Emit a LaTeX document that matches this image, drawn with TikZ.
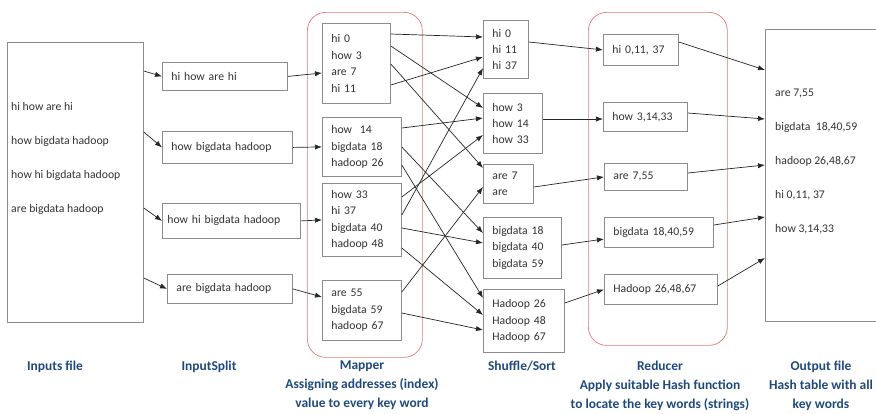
\documentclass[tikz,border=0pt]{standalone}
\usepackage{fontspec}
\setmainfont{Carlito}
\usetikzlibrary{arrows.meta}
\definecolor{boxgray}{RGB}{140,140,140}
\definecolor{textgray}{RGB}{50,50,50}
\definecolor{capblue}{RGB}{31,73,125}
\definecolor{groupred}{RGB}{232,120,120}

\begin{document}
\begin{tikzpicture}[x=0.03cm, y=-0.03cm]
\tikzstyle{box}=[rectangle, draw=boxgray, line width=0.7pt, anchor=north west, align=left, inner xsep=0.27cm, inner ysep=0pt, text=textgray, font=\fontsize{10}{14}\selectfont]
\tikzstyle{frame}=[rectangle, draw=boxgray, line width=0.7pt, anchor=north west, inner sep=0pt]
\tikzstyle{group}=[rectangle, rounded corners=0.55cm, draw=groupred, line width=0.6pt, anchor=north west, inner sep=0pt]
\tikzstyle{lines}=[anchor=north west, align=left, inner sep=0pt, text=textgray, font=\fontsize{10}{29}\selectfont]
\tikzstyle{caption}=[anchor=north, align=center, inner sep=0pt, text=capblue, font=\bfseries\fontsize{11.5}{16}\selectfont]
\tikzstyle{connect}=[-{Latex[length=6pt, width=4.5pt]}, line width=0.6pt, black!85]

\useasboundingbox (0,0) rectangle (876,413);

  % red frames round the map and reduce steps
  \node[group, minimum width=3.45cm, minimum height=10.35cm] (mapgroup) at (307,12) {};
  \node[group, minimum width=4.17cm, minimum height=9.99cm]  (redgroup) at (588,12) {};

  % input file
  \node[frame, minimum width=4.08cm, minimum height=8.4cm] (inputs) at (7,42) {};
  \node[lines] (inputtext) at (11,102) {hi how are hi\\how bigdata hadoop\\how hi bigdata hadoop\\are bigdata hadoop};

  % splits
  \node[box, minimum width=3.75cm, minimum height=0.84cm, text width=3.21cm] (split1) at (162,62)  {hi~how~are~hi};
  \node[box, minimum width=3.9cm,  minimum height=0.96cm, text width=3.36cm] (split2) at (162,131) {how~bigdata~hadoop};
  \node[box, minimum width=4.14cm, minimum height=1.05cm, text width=3.84cm, inner xsep=0.15cm] (split3) at (162,203) {how~hi~bigdata~hadoop};
  \node[box, minimum width=3.75cm, minimum height=0.87cm, text width=3.21cm] (split4) at (167,274) {are~bigdata~hadoop};

  % mapper output
  \node[box, minimum width=2.04cm, minimum height=2.4cm,  text width=1.5cm]  (map1) at (322,23)  {hi~0\\how~3\\are~7\\hi~11};
  \node[box, minimum width=2.37cm, minimum height=1.77cm, text width=1.83cm] (map2) at (322,117) {how~~14\\bigdata~18\\hadoop~26};
  \node[box, minimum width=2.37cm, minimum height=2.19cm, text width=1.83cm] (map3) at (322,183) {how~33\\hi~37\\bigdata~40\\hadoop~48};
  \node[box, minimum width=2.37cm, minimum height=1.8cm,  text width=1.83cm] (map4) at (322,280) {are~55\\bigdata~59\\hadoop~67};

  % shuffled groups
  \node[box, minimum width=1.35cm, minimum height=1.74cm, text width=0.81cm] (shuf1) at (483,20)  {hi~0\\hi~11\\hi~37};
  \node[box, minimum width=1.77cm, minimum height=1.8cm,  text width=1.23cm] (shuf2) at (483,93)  {how~3\\how~14\\how~33};
  \node[box, minimum width=1.5cm,  minimum height=1.17cm, text width=0.96cm] (shuf3) at (483,164) {are~7\\are};
  \node[box, minimum width=2.34cm, minimum height=1.83cm, text width=1.8cm]  (shuf4) at (483,217) {bigdata~18\\bigdata~40\\bigdata~59};
  \node[box, minimum width=2.43cm, minimum height=1.89cm, text width=1.89cm] (shuf5) at (483,289) {Hadoop~26\\Hadoop~48\\Hadoop~67};

  % reducer output
  \node[box, minimum width=2.25cm, minimum height=0.93cm, text width=1.71cm] (red1) at (603,34)  {hi~0,11,~37};
  \node[box, minimum width=2.52cm, minimum height=0.87cm, text width=1.98cm] (red2) at (603,102) {how~3,14,33};
  \node[box, minimum width=2.49cm, minimum height=0.81cm, text width=1.95cm] (red3) at (604,163) {are~7,55};
  \node[box, minimum width=3.27cm, minimum height=0.9cm,  text width=2.73cm] (red4) at (604,217) {bigdata~18,40,59};
  \node[box, minimum width=3.39cm, minimum height=0.9cm,  text width=2.85cm] (red5) at (604,274) {Hadoop~26,48,67};

  % output file
  \node[frame, minimum width=3.45cm, minimum height=8.76cm] (output) at (765,29) {};
  \node[lines] (outtext) at (775,89) {are 7,55\\bigdata~~18,40,59\\hadoop 26,48,67\\hi 0,11, 37\\how 3,14,33};

  % file -> splits
  \path ([shift={(0,29)}]inputs.north east)  edge [connect] (split1.west);
  \path ([shift={(0,90)}]inputs.north east)  edge [connect] (split2.west);
  \path ([shift={(0,166)}]inputs.north east) edge [connect] (split3.west);
  \path ([shift={(0,236)}]inputs.north east) edge [connect] (split4.west);

  % splits -> mapper
  \path (split1.east) edge [connect] ([shift={(0,50)}]map1.north west);
  \path (split2.east) edge [connect] (map2.west);
  \path (split3.east) edge [connect] (map3.west);
  \path (split4.east) edge [connect] ([shift={(0,17)}]map4.north west);

  % mapper -> shuffle/sort
  \path ([shift={(0,11)}]map1.north east) edge [connect] ([shift={(0,17)}]shuf1.north west);
  \path ([shift={(0,23)}]map1.north east) edge [connect] ([shift={(0,15)}]shuf2.north west);
  \path ([shift={(0,41)}]map1.north east) edge [connect] ([shift={(0,4)}]shuf3.north west);
  \path ([shift={(0,62)}]map1.north east) edge [connect] ([shift={(0,37)}]shuf1.north west);
  \path ([shift={(0,11)}]map2.north east) edge [connect] ([shift={(0,25)}]shuf2.north west);
  \path ([shift={(0,30)}]map2.north east) edge [connect] ([shift={(0,16)}]shuf4.north west);
  \path ([shift={(0,48)}]map2.north east) edge [connect] ([shift={(0,9)}]shuf5.north west);
  \path ([shift={(0,14)}]map3.north east) edge [connect] ([shift={(0,42)}]shuf2.north west);
  \path ([shift={(0,32)}]map3.north east) edge [connect] ([shift={(0,48)}]shuf1.north west);
  \path ([shift={(0,45)}]map3.north east) edge [connect] ([shift={(0,26)}]shuf4.north west);
  \path ([shift={(0,65)}]map3.north east) edge [connect] ([shift={(0,26)}]shuf5.north west);
  \path ([shift={(0,12)}]map4.north east) edge [connect] ([shift={(0,23)}]shuf3.north west);
  \path ([shift={(0,33)}]map4.north east) edge [connect] ([shift={(0,41)}]shuf5.north west);

  % shuffle/sort -> reducer
  \path ([shift={(0,22)}]shuf1.north east) edge [connect] (red1.west);
  \path ([shift={(0,26)}]shuf2.north east) edge [connect] ([shift={(0,17)}]red2.north west);
  \path ([shift={(0,23)}]shuf3.north east) edge [connect] (red3.west);
  \path ([shift={(0,28)}]shuf4.north east) edge [connect] ([shift={(0,22)}]red4.north west);
  \path ([shift={(0,14)}]shuf5.north east) edge [connect] (red5.west);

  % reducer -> output file
  \path ([shift={(0,8)}]red1.north east)  edge [connect] ([shift={(0,41)}]output.north west);
  \path ([shift={(0,11)}]red2.north east) edge [connect] ([shift={(0,90)}]output.north west);
  \path ([shift={(0,10)}]red3.north east) edge [connect] ([shift={(0,136)}]output.north west);
  \path ([shift={(0,8)}]red4.north east)  edge [connect] ([shift={(0,188)}]output.north west);
  \path ([shift={(0,12)}]red5.north east) edge [connect] ([shift={(0,229)}]output.north west);

  % step captions
  \node[caption] (capinput)   at (55,361)  {Inputs file};
  \node[caption] (capsplit)   at (209,361) {InputSplit};
  \node[caption] (capmapper)  at (362,361) {Mapper\\Assigning addresses (index)\\value to every key word};
  \node[caption] (capshuffle) at (522,361) {Shuffle/Sort};
  \node[caption] (capreducer) at (660,361) {Reducer\\Apply suitable Hash function\\to locate the key words (strings)};
  \node[caption] (capoutput)  at (821,361) {Output file\\Hash table with all\\key words};

\end{tikzpicture}
\end{document}
